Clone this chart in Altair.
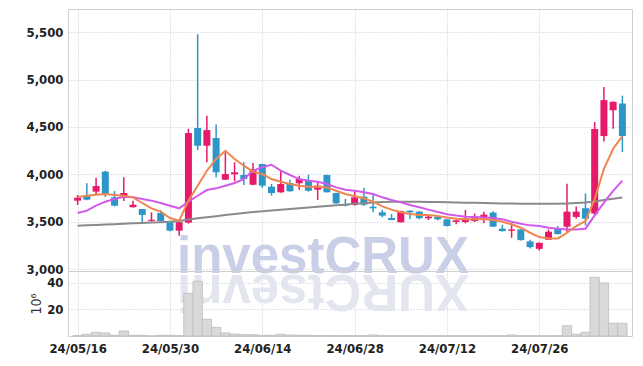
import altair as alt
import pandas as pd

dates = ["24/05/16", "24/05/17", "24/05/20", "24/05/21", "24/05/22", "24/05/23", "24/05/24",
         "24/05/27", "24/05/28", "24/05/29", "24/05/30", "24/05/31", "24/06/03", "24/06/04",
         "24/06/05", "24/06/07", "24/06/10", "24/06/11", "24/06/12", "24/06/13", "24/06/14",
         "24/06/17", "24/06/18", "24/06/19", "24/06/20", "24/06/21", "24/06/24", "24/06/25",
         "24/06/26", "24/06/27", "24/06/28", "24/07/01", "24/07/02", "24/07/03", "24/07/04",
         "24/07/05", "24/07/08", "24/07/09", "24/07/10", "24/07/11", "24/07/12", "24/07/15",
         "24/07/16", "24/07/17", "24/07/18", "24/07/19", "24/07/22", "24/07/23", "24/07/24",
         "24/07/25", "24/07/26", "24/07/29", "24/07/30", "24/07/31", "24/08/01", "24/08/02",
         "24/08/05", "24/08/06", "24/08/07", "24/08/08"]

open_ = [3722, 3774, 3817, 4028, 3757, 3768, 3652, 3634, 3508, 3592, 3494, 3405, 3490, 4489, 4302,
         4383, 3943, 4000, 3993, 3890, 4109, 3869, 3810, 3908, 3905, 3933, 3838, 3993, 3803, 3687,
         3676, 3764, 3658, 3599, 3539, 3494, 3616, 3606, 3536, 3550, 3525, 3497, 3496, 3507, 3532,
         3596, 3426, 3404, 3418, 3291, 3213, 3309, 3426, 3447, 3550, 3642, 3585, 4404, 4677, 4748]
close = [3753, 3732, 3877, 3782, 3669, 3803, 3679, 3571, 3520, 3507, 3405, 3494, 4436, 4302, 4467,
         4021, 4003, 4021, 3950, 4056, 3880, 3802, 3898, 3821, 3950, 3827, 3880, 3810, 3694, 3669,
         3757, 3679, 3641, 3563, 3518, 3610, 3599, 3536, 3553, 3525, 3454, 3514, 3532, 3546, 3574,
         3447, 3401, 3418, 3305, 3231, 3277, 3394, 3369, 3606, 3606, 3532, 4479, 4784, 4766, 4404]
high = [3782, 3905, 3964, 4038, 3824, 3968, 3722, 3634, 3599, 3620, 3500, 3500, 4480, 5480, 4618,
        4527, 4232, 4127, 4127, 4119, 4110, 3898, 4045, 3943, 3985, 3996, 3916, 3995, 3805, 3740,
        3820, 3856, 3782, 3627, 3581, 3615, 3620, 3610, 3560, 3555, 3530, 3520, 3624, 3585, 3606,
        3610, 3465, 3482, 3420, 3309, 3280, 3418, 3454, 3901, 3660, 3798, 4553, 4922, 4770, 4830]
low = [3676, 3725, 3792, 3760, 3660, 3718, 3650, 3494, 3500, 3500, 3400, 3352, 3480, 4256, 4127,
       3968, 3940, 3926, 3887, 3885, 3856, 3774, 3805, 3815, 3838, 3817, 3729, 3808, 3690, 3662,
       3669, 3669, 3599, 3546, 3515, 3490, 3528, 3525, 3518, 3515, 3450, 3472, 3482, 3496, 3482,
       3445, 3394, 3330, 3300, 3216, 3195, 3305, 3365, 3383, 3532, 3461, 3560, 4347, 4482, 4234]

volume = [0.3, 1.3, 2.8, 2.3, 0.5, 3.8, 0.5, 0.5, 0.1, 0.5, 0.5, 0.2, 32.2, 41.3, 12.6, 6.5, 2.3,
          1.5, 1.0, 1.0, 0.5, 0.5, 1.3, 0.8, 0.5, 0.5, 0.4, 0.4, 0.3, 0.3, 0.3, 0.3, 0.8, 0.3, 0.2,
          0.2, 0.2, 0.2, 0.2, 0.2, 0.2, 0.2, 0.2, 0.2, 0.2, 0.2, 0.2, 0.8, 0.2, 0.2, 0.2, 0.2, 0.2,
          7.8, 1.3, 2.8, 44.3, 40.0, 9.6, 9.6]

ma5 = [3760, 3774, 3785, 3792, 3782, 3774, 3757, 3697, 3641, 3606, 3539, 3511, 3722, 3880, 4038,
       4162, 4249, 4162, 4091, 4028, 4003, 3950, 3922, 3898, 3880, 3869, 3869, 3862, 3827, 3792,
       3768, 3747, 3711, 3662, 3627, 3599, 3581, 3571, 3571, 3560, 3543, 3532, 3525, 3525, 3525,
       3518, 3500, 3472, 3436, 3383, 3337, 3323, 3323, 3383, 3454, 3507, 3738, 4057, 4270, 4404]
ma20 = [3592, 3616, 3669, 3711, 3740, 3764, 3757, 3740, 3722, 3697, 3669, 3641, 3711, 3774, 3834,
        3852, 3880, 3908, 3950, 4040, 4074, 4101, 4039, 3993, 3950, 3933, 3922, 3898, 3862, 3838,
        3827, 3810, 3792, 3757, 3729, 3704, 3676, 3652, 3627, 3603, 3578, 3564, 3553, 3550, 3543,
        3539, 3525, 3500, 3479, 3461, 3454, 3436, 3426, 3418, 3418, 3426, 3567, 3702, 3826, 3933]
ma120 = [3458, 3462, 3466, 3470, 3474, 3478, 3482, 3486, 3490, 3494, 3500, 3506, 3522, 3535, 3547,
         3558, 3570, 3581, 3592, 3602, 3610, 3618, 3626, 3634, 3642, 3650, 3658, 3666, 3673, 3680,
         3688, 3695, 3702, 3707, 3710, 3711, 3711, 3710, 3709, 3707, 3705, 3703, 3701, 3699, 3697,
         3695, 3693, 3691, 3690, 3689, 3688, 3688, 3689, 3692, 3696, 3702, 3712, 3728, 3742, 3755]

price_ticks = [3000, 3500, 4000, 4500, 5000, 5500]
vol_ticks = [20, 40]
date_tick_idx = [0, 10, 20, 30, 40, 50]
watermark = "investCRUX"

UP, DOWN = "#e6196a", "#2d96c8"
FONT = "DejaVu Sans Condensed"
n = len(dates)
df = pd.DataFrame({"i": list(range(n)), "date": dates, "open": open_, "high": high,
                   "low": low, "close": close, "vol": volume,
                   "ma5": ma5, "ma20": ma20, "ma120": ma120})
df["dir"] = ["up" if c >= o else "down" for o, c in zip(open_, close)]

label_expr = "[" + ",".join("'%s'" % d for d in dates) + "][datum.value]"
grid_kw = dict(gridColor="#c3c6d6", gridDash=[1, 2], gridWidth=1)
lab_kw = dict(labelFont=FONT, labelFontSize=13, labelFontWeight="bold",
              labelColor="#222222")

x_scale = alt.Scale(domain=[-0.5, n - 0.5], nice=False, zero=False)
y_scale = alt.Scale(domain=[2979, 5746], nice=False, zero=False)

x_price = alt.X("i:Q", scale=x_scale,
                axis=alt.Axis(values=date_tick_idx, labels=False, ticks=False, domain=False,
                              title=None, grid=True, **grid_kw))
y_axis = alt.Axis(values=price_ticks, format=",d", grid=True, ticks=False, domain=False,
                  title=None, labelPadding=5, **grid_kw, **lab_kw)


def Y(field):
    return alt.Y(field + ":Q", scale=y_scale, axis=y_axis)


color = alt.Color("dir:N", scale=alt.Scale(domain=["up", "down"], range=[UP, DOWN]), legend=None)
base = alt.Chart(df)

wm = alt.Chart(pd.DataFrame({"t": [watermark]})).mark_text(
    font="Liberation Sans", fontSize=51, fontWeight="bold", color="#c8cfe6",
    align="left", baseline="alphabetic").encode(text="t:N", x=alt.value(109), y=alt.value(263.5))

wick = base.mark_rule(strokeWidth=1.5).encode(x=x_price, y=Y("low"), y2="high:Q", color=color)
body = base.mark_bar(size=7).encode(x=x_price, y=Y("open"), y2="close:Q", color=color)
l120 = base.mark_line(color="#8a8a8a", strokeWidth=2).encode(x=x_price, y=Y("ma120"))
l20 = base.mark_line(color="#d25aeb", strokeWidth=2).encode(x=x_price, y=Y("ma20"))
l5 = base.mark_line(color="#ef8650", strokeWidth=2).encode(x=x_price, y=Y("ma5"))

price = alt.layer(wm, wick, body, l120, l20, l5).properties(width=564, height=262)

x_vol = alt.X("i:Q", scale=x_scale,
              axis=alt.Axis(values=date_tick_idx, labelExpr=label_expr, ticks=False, domain=False,
                            title=None, grid=True, labelPadding=6, labelFlush=False,
                            **grid_kw, **lab_kw))
refl = alt.Chart(pd.DataFrame({"t": [watermark[::-1]]})).mark_text(
    font="Liberation Sans", fontSize=51, fontWeight="bold", color="#e4e6ef", angle=180,
    align="left", baseline="alphabetic").encode(text="t:N", x=alt.value(401), y=alt.value(3.5))
vbars = base.mark_bar(size=9.4, fill="#d9d9d9", stroke="#bdbdbd", strokeWidth=0.8).encode(
    x=x_vol,
    y=alt.Y("vol:Q", scale=alt.Scale(domain=[0, 49], nice=False),
            axis=alt.Axis(values=vol_ticks, title="10⁶", titleFont=FONT,
                          titleFontSize=14, titleFontWeight="normal", titleColor="#333333",
                          titlePadding=3, ticks=False, domain=False, grid=True, labelPadding=5,
                          **grid_kw, **lab_kw)))
vol = alt.layer(refl, vbars).properties(width=564, height=65)

chart = alt.vconcat(price, vol, spacing=0, bounds="flush").configure_view(
    stroke="#cfcfcf").properties(padding={"left": 17, "top": 0, "right": 2, "bottom": 0})

chart.save("out.html", embed_options={"renderer": "svg", "actions": False})
